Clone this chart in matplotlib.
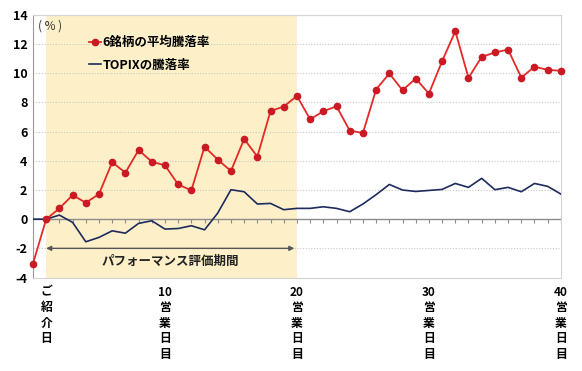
import numpy as np
import matplotlib.pyplot as plt

plt.rcParams['font.family'] = ['Noto Sans CJK JP', 'DejaVu Sans']
plt.rcParams['axes.unicode_minus'] = False

# day index 0..40 (index 1 = ご紹介日)
days = np.arange(41)

stocks_avg = [-3.04, 0.0, 0.74, 1.65, 1.13, 1.72, 3.90, 3.19, 4.74, 3.94,
              3.69, 2.38, 1.97, 4.97, 4.08, 3.30, 5.50, 4.29, 7.42, 7.72,
              8.45, 6.85, 7.40, 7.74, 6.07, 5.91, 8.89, 9.99, 8.84, 9.64,
              8.61, 10.83, 12.89, 9.69, 11.13, 11.43, 11.63, 9.71, 10.45, 10.24,
              10.17]

topix = [0.0, 0.0, 0.28, -0.22, -1.55, -1.25, -0.80, -0.96, -0.29, -0.11,
         -0.68, -0.64, -0.45, -0.73, 0.42, 2.02, 1.88, 1.04, 1.08, 0.65,
         0.74, 0.74, 0.85, 0.74, 0.51, 1.04, 1.68, 2.38, 2.00, 1.90,
         1.97, 2.04, 2.45, 2.18, 2.80, 2.02, 2.18, 1.88, 2.45, 2.25,
         1.72]

tick_pos = [1, 10, 20, 30, 40]
tick_labels = ['ご\n紹\n介\n日', '10\n営\n業\n日\n目', '20\n営\n業\n日\n目',
               '30\n営\n業\n日\n目', '40\n営\n業\n日\n目']
eval_start, eval_end = 1, 20

fig = plt.figure(figsize=(5.82, 3.71), dpi=100)
ax = fig.add_axes([0.0567, 0.252, 0.907, 0.7076])

# evaluation period shading
ax.axvspan(eval_start, eval_end, color='#fdf0c9', zorder=0, lw=0)

# grid
for y in [-2, 2, 4, 6, 8, 10, 12, 14]:
    ax.axhline(y, color='#c8c8c8', lw=0.8, ls=(0, (1, 1.5)), zorder=1)
ax.axhline(0, color='#8c8c8c', lw=1.0, zorder=2)
ax.vlines(days, -0.25, 0, color='#8c8c8c', lw=0.8, zorder=2)

ax.plot(days, topix, color='#1e2b5e', lw=1.2, zorder=3, label='TOPIXの騰落率')
ax.plot(days, stocks_avg, color='#e42a26', lw=1.3, marker='o', ms=4.5,
        mfc='#cc1a24', mec='#cc1a24', zorder=4, clip_on=False,
        label='6銘柄の平均騰落率')

ax.annotate('', xy=(eval_start, -2), xytext=(eval_end - 0.2, -2),
            arrowprops=dict(arrowstyle='<|-|>', color='#555555', lw=1.0,
                            shrinkA=0, shrinkB=0, mutation_scale=7))
ax.text(10.4, -2.93, 'パフォーマンス評価期間', ha='center', va='center',
        fontsize=9, fontweight='bold', color='#222222')
ax.text(0.01, 0.958, '( % )', transform=ax.transAxes, fontsize=8.5,
        ha='left', va='center', color='#333333')

ax.set_xlim(0, 40)
ax.set_ylim(-4, 14)
ax.set_yticks(range(-4, 15, 2))
ax.set_xticks(tick_pos)
ax.set_xticklabels(tick_labels, fontsize=8.5, fontweight='bold',
                   linespacing=1.25, va='top')
ax.tick_params(axis='x', length=0, pad=6)
ax.tick_params(axis='y', length=0, pad=4, labelsize=9)
for lbl in ax.get_yticklabels():
    lbl.set_fontweight('bold')

for side in ['top', 'right', 'bottom']:
    ax.spines[side].set_color('#d4d4d4')
ax.spines['left'].set_color('#999999')

handles, labels = ax.get_legend_handles_labels()
ax.legend(handles[::-1], labels[::-1], loc='upper left',
          bbox_to_anchor=(0.085, 0.962), frameon=False,
          handlelength=0.95, handletextpad=0.15, labelspacing=0.75,
          prop={'weight': 'bold', 'size': 9})

fig.savefig('out.png', dpi=100)
